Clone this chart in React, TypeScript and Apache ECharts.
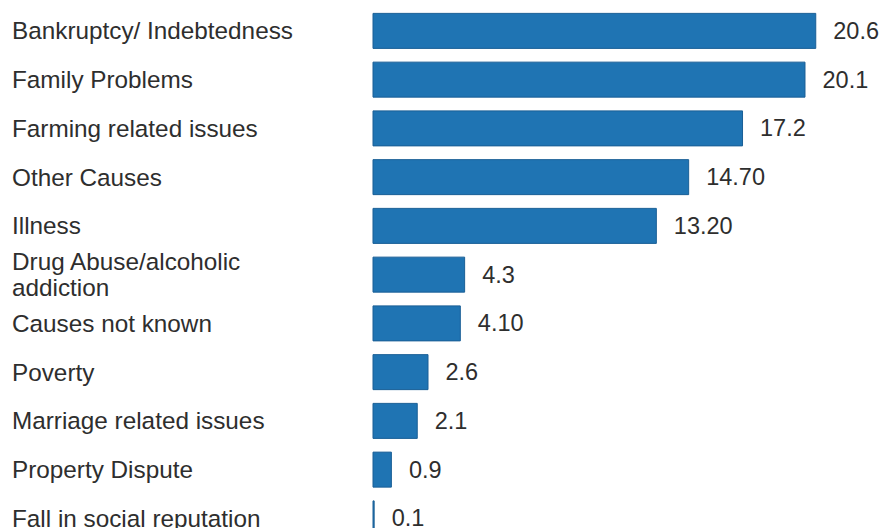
import React, { useEffect, useRef } from "react";
import * as echarts from "echarts";

const categories = [
  "Bankruptcy/ Indebtedness",
  "Family Problems",
  "Farming related issues",
  "Other Causes",
  "Illness",
  "Drug Abuse/alcoholic\naddiction",
  "Causes not known",
  "Poverty",
  "Marriage related issues",
  "Property Dispute",
  "Fall in social reputation",
];
const values = [20.6, 20.1, 17.2, 14.7, 13.2, 4.3, 4.1, 2.6, 2.1, 0.9, 0.1];
const valueLabels = ["20.6", "20.1", "17.2", "14.70", "13.20", "4.3", "4.10", "2.6", "2.1", "0.9", "0.1"];

export default function App() {
  const ref = useRef<HTMLDivElement>(null);
  useEffect(() => {
    if (!ref.current) return;
    const chart = echarts.init(ref.current, null, { renderer: "svg" });
    const font = "'Liberation Sans', Arial, Helvetica, sans-serif";
    chart.setOption({
      animation: false,
      backgroundColor: "#ffffff",
      grid: { left: 372.5, top: 6.5, width: 517, height: 536.25, containLabel: false },
      xAxis: {
        type: "value",
        min: 0,
        max: 24,
        show: false,
        splitLine: { show: false },
      },
      yAxis: {
        type: "category",
        data: categories,
        inverse: true,
        axisLine: { show: false },
        axisTick: { show: false },
        splitLine: { show: false },
        axisLabel: {
          align: "left",
          margin: 360.5,
          fontFamily: font,
          fontSize: 24.3,
          lineHeight: 26,
          color: "#2e2e2e",
        },
      },
      series: [
        {
          type: "bar",
          data: values,
          barWidth: 36,
          itemStyle: { color: "#1f74b3", borderColor: "#1a5f96", borderWidth: 1 },
          label: {
            show: true,
            position: "right",
            distance: 17,
            fontFamily: font,
            fontSize: 23.5,
            color: "#2e2e2e",
            formatter: (p: any) => valueLabels[p.dataIndex],
          },
        },
      ],
    });
    return () => chart.dispose();
  }, []);
  return (
    <div
      ref={ref}
      style={{ position: "fixed", left: 0, top: 0, width: 896, height: 548 }}
    />
  );
}
